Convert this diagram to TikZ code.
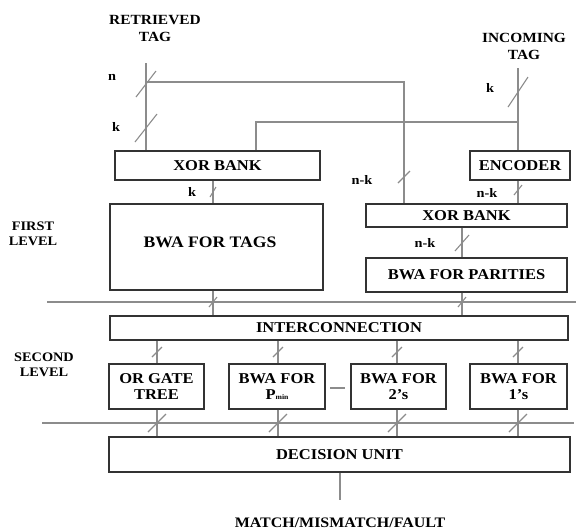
\documentclass[tikz,border=0pt]{standalone}
\usepackage{fontspec}
\setmainfont{Liberation Serif}[FakeStretch=1.1]
\newcommand\busmark[4]{\draw[conn] (#1-#3,#2+#4) -- (#1+#3,#2-#4);}
\begin{document}
\begin{tikzpicture}[x=1pt,y=-1pt,
  box/.style={draw=black!80, line width=1.4pt, inner sep=0pt, align=center,
    font=\bfseries\fontsize{15}{15.5}\selectfont},
  conn/.style={draw=black!45, line width=1.1pt},
  lab/.style={font=\bfseries\fontsize{13}{15}\selectfont, align=center, inner sep=0pt},
  biglab/.style={lab, font=\bfseries\fontsize{14}{17}\selectfont}]
\useasboundingbox (0,0) rectangle (576,531);
% boxes
\node[box, minimum width=205pt, minimum height=29pt] (xorL) at (217.5,165.5) {XOR BANK};
\node[box, minimum width=100pt, minimum height=29pt] (enc) at (520,165.5) {ENCODER};
\node[box, minimum width=213pt, minimum height=86pt] (bwaT) at (216.5,247) {};
\node[lab, font=\bfseries\fontsize{16}{16}\selectfont] (bwaTt) at (210,242) {BWA FOR TAGS};
\node[box, minimum width=201pt, minimum height=23pt] (xorR) at (466.5,215.5) {XOR BANK};
\node[box, minimum width=201pt, minimum height=34pt] (bwaP) at (466.5,275) {BWA FOR PARITIES};
\node[box, minimum width=458pt, minimum height=24pt] (inter) at (339,328) {INTERCONNECTION};
\node[box, minimum width=95pt, minimum height=45pt] (orG) at (156.5,386.5) {OR GATE\\TREE};
\node[box, minimum width=96pt, minimum height=45pt] (pmin) at (277,386.5) {BWA FOR\\P{\fontsize{7}{7}\selectfont min}};
\node[box, minimum width=95pt, minimum height=45pt] (two) at (398.5,386.5) {BWA FOR\\2's};
\node[box, minimum width=97pt, minimum height=45pt] (one) at (518.5,386.5) {BWA FOR\\1's};
\node[box, minimum width=461pt, minimum height=35pt] (dec) at (339.5,454.5) {DECISION UNIT};
% texts
\node[biglab] (ret) at (155,28) {RETRIEVED\\TAG};
\node[biglab] (inc) at (524,46) {INCOMING\\TAG};
\node[lab] (first) at (33,234) {FIRST\\LEVEL};
\node[lab] (second) at (44,365) {SECOND\\LEVEL};
\node[lab, font=\bfseries\fontsize{14.5}{15}\selectfont] (res) at (340,523) {MATCH/MISMATCH/FAULT};
\node[lab] (ln) at (112,77) {n};
\node[lab] (lk1) at (116,127) {k};
\node[lab] (lk2) at (490,88) {k};
\node[lab] (lk3) at (192,192) {k};
\node[lab] (lnk1) at (362,180) {n-k};
\node[lab] (lnk2) at (487,193) {n-k};
\node[lab] (lnk3) at (425,243) {n-k};
% coordinates
\coordinate (rt) at (146,63);
\coordinate (nb) at (146,82);
\coordinate (nx) at (404,0);
\coordinate (it) at (518,68);
\coordinate (kb) at (518,122);
\coordinate (kx) at (256,0);
\coordinate (c1) at (213,0);
\coordinate (c2) at (462,0);
\coordinate (ca) at (157,0);
\coordinate (cb) at (278,0);
\coordinate (cc) at (397,0);
\coordinate (cd) at (518,0);
\coordinate (out) at (340,500);
\coordinate (s1a) at (47,302);
\coordinate (s1b) at (576,302);
\coordinate (s2a) at (42,423);
\coordinate (s2b) at (574,423);
\coordinate (d1) at (330,388);
\coordinate (d2) at (345,388);
% connectors
\draw[conn] (rt) -- (rt |- xorL.north);
\draw[conn] (nb) -| (nx |- xorR.north);
\draw[conn] (it) -- (it |- enc.north);
\draw[conn] (kb) -| (kx |- xorL.north);
\draw[conn] (it |- enc.south) -- (it |- xorR.north);
\draw[conn] (c1 |- xorL.south) -- (c1 |- bwaT.north);
\draw[conn] (c1 |- bwaT.south) -- (c1 |- inter.north);
\draw[conn] (c2 |- xorR.south) -- (c2 |- bwaP.north);
\draw[conn] (c2 |- bwaP.south) -- (c2 |- inter.north);
\draw[conn] (ca |- inter.south) -- (ca |- orG.north);
\draw[conn] (cb |- inter.south) -- (cb |- pmin.north);
\draw[conn] (cc |- inter.south) -- (cc |- two.north);
\draw[conn] (cd |- inter.south) -- (cd |- one.north);
\draw[conn] (ca |- orG.south) -- (ca |- dec.north);
\draw[conn] (cb |- pmin.south) -- (cb |- dec.north);
\draw[conn] (cc |- two.south) -- (cc |- dec.north);
\draw[conn] (cd |- one.south) -- (cd |- dec.north);
\draw[conn] (out |- dec.south) -- (out);
\draw[conn] (s1a) -- (s1b);
\draw[conn] (s2a) -- (s2b);
\draw[conn] (d1) -- (d2);
% bus marks
\busmark{146}{84}{10}{13}
\busmark{146}{128}{11}{14}
\busmark{518}{92}{10}{15}
\busmark{213}{192}{3}{5}
\busmark{404}{177}{6}{6}
\busmark{518}{190}{4}{5}
\busmark{462}{243}{7}{8}
\busmark{213}{302}{4}{5}
\busmark{462}{302}{4}{5}
\busmark{157}{352}{5}{5}
\busmark{278}{352}{5}{5}
\busmark{397}{352}{5}{5}
\busmark{518}{352}{5}{5}
\busmark{157}{423}{9}{9}
\busmark{278}{423}{9}{9}
\busmark{397}{423}{9}{9}
\busmark{518}{423}{9}{9}
\end{tikzpicture}
\end{document}
